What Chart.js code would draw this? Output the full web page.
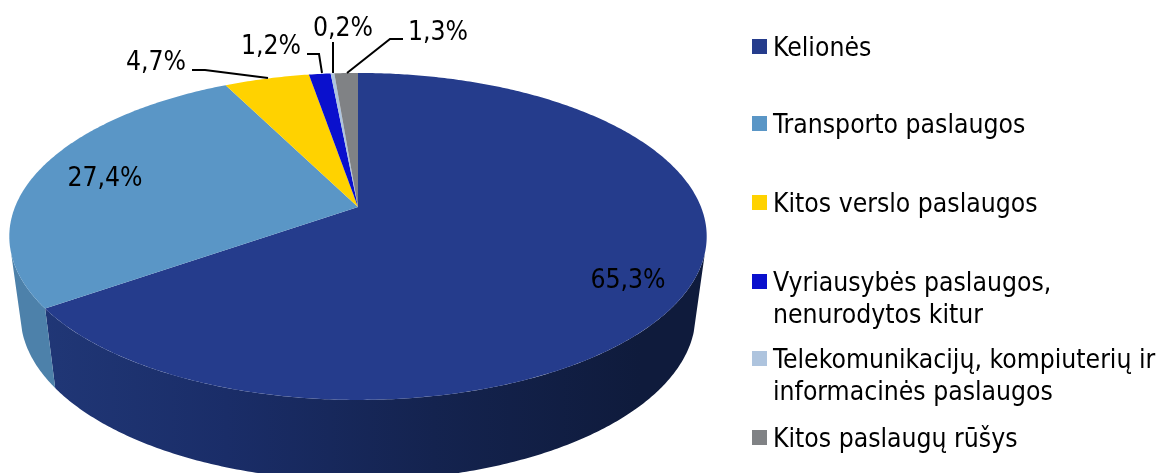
<!DOCTYPE html>
<html>
<head>
<meta charset="utf-8">
<style>
  html, body { margin: 0; padding: 0; background: #fff; overflow: hidden; }
  canvas { display: block; }
</style>
<script src="https://cdn.jsdelivr.net/npm/chart.js@4/dist/chart.umd.min.js"></script>
</head>
<body>
<canvas id="chart" width="1165" height="473"></canvas>
<script>
// ─── Data ───
const categories = ['Kelionės', 'Transporto paslaugos', 'Kitos verslo paslaugos',
  'Vyriausybės paslaugos,\nnenurodytos kitur',
  'Telekomunikacijų, kompiuterių ir\ninformacinės paslaugos', 'Kitos paslaugų rūšys'];
const shares = [65.3, 27.4, 4.7, 1.2, 0.2, 1.3];
const sliceColors = ['#253c8c', '#5a96c6', '#ffd200', '#0a10cd', '#aec4de', '#808285'];

// ─── Layout (tilted pie, label and legend places) ───
const FONT = '"DejaVu Sans Condensed", "DejaVu Sans", sans-serif';
const FONT_SIZE = 26.3;
const topRim = { cx: 358, cy: 207, C: 343, A: 158.2, k: -0.18 };
const lowRim = { cx: 358, cy: 285.3, C: 332, A: 160, k: -0.18 };
const SIDE_INSET = 0.28;  // side wall starts this far (radians) below the horizontal
const labelSpots = [[628, 281], [105, 179], [156, 63], [271, 47], [343, 29], [438, 33]];
const leaders = [null, null,
  [[192, 70], [205, 70], [268, 78]],
  [[307, 54], [319, 54], [322, 73]],
  [[333, 42], [333, 73]],
  [[403, 39], [390, 39], [347, 73]]];
const legendRows = [49, 126, 205, 284, 361, 440];
const LINE_GAP = 32;

function rimPoint(rim, a) {
  const u = Math.cos(a), v = Math.sin(a), w = 1 + rim.k * v;
  return [rim.cx + rim.C * u / w, rim.cy + rim.A * v / w];
}

function sideGradient(ctx, stops) {
  const g = ctx.createLinearGradient(20, 0, 640, 0);
  stops.forEach((c, i) => g.addColorStop(i / (stops.length - 1), c));
  return g;
}

// ─── Tilted pie, drawn from the arcs Chart.js laid out ───
const tiltedPie = {
  id: 'tiltedPie',
  beforeDatasetsDraw(chart) {
    const ctx = chart.ctx;
    const arcs = chart.getDatasetMeta(0).data;
    const STEP = 0.01;

    // side wall
    const sideFills = [
      sideGradient(ctx, ['#213878', '#1a2d68', '#14234f', '#0f1b3c']),
      '#4d81aa'
    ];
    arcs.slice(0, 2).forEach((arc, i) => {
      const from = Math.max(arc.startAngle, SIDE_INSET);
      const to = Math.min(arc.endAngle, Math.PI - SIDE_INSET);
      if (to <= from) return;
      ctx.beginPath();
      for (let a = from; a < to; a += STEP) ctx.lineTo(...rimPoint(topRim, a));
      ctx.lineTo(...rimPoint(topRim, to));
      for (let a = to; a > from; a -= STEP) ctx.lineTo(...rimPoint(lowRim, a));
      ctx.lineTo(...rimPoint(lowRim, from));
      ctx.closePath();
      ctx.fillStyle = sideFills[i];
      ctx.fill();
    });

    // top face
    arcs.forEach((arc, i) => {
      ctx.beginPath();
      ctx.moveTo(topRim.cx, topRim.cy);
      for (let a = arc.startAngle; a < arc.endAngle; a += STEP) ctx.lineTo(...rimPoint(topRim, a));
      ctx.lineTo(...rimPoint(topRim, arc.endAngle));
      ctx.closePath();
      ctx.fillStyle = sliceColors[i];
      ctx.fill();
    });
    return false;
  },
  afterDraw(chart) {
    const ctx = chart.ctx;
    ctx.save();
    ctx.font = `${FONT_SIZE}px ${FONT}`;
    ctx.fillStyle = '#000';
    ctx.textBaseline = 'middle';

    // value labels and leader lines
    ctx.textAlign = 'center';
    shares.forEach((v, i) => {
      ctx.fillText(v.toFixed(1).replace('.', ',') + '%', labelSpots[i][0], labelSpots[i][1]);
      if (!leaders[i]) return;
      ctx.beginPath();
      leaders[i].forEach(p => ctx.lineTo(p[0], p[1]));
      ctx.strokeStyle = '#000';
      ctx.lineWidth = 2;
      ctx.stroke();
    });

    // legend
    ctx.textAlign = 'left';
    categories.forEach((name, i) => {
      const y = legendRows[i];
      ctx.fillStyle = sliceColors[i];
      ctx.fillRect(752, y - 10, 15, 15);
      ctx.fillStyle = '#000';
      name.split('\n').forEach((line, j) => ctx.fillText(line, 773, y + j * LINE_GAP));
    });
    ctx.restore();
  }
};

new Chart(document.getElementById('chart'), {
  type: 'pie',
  data: { labels: categories, datasets: [{ data: shares, backgroundColor: sliceColors, borderWidth: 0 }] },
  options: {
    responsive: false,
    animation: false,
    plugins: { legend: { display: false }, tooltip: { enabled: false } }
  },
  plugins: [tiltedPie]
});
</script>
</body>
</html>
